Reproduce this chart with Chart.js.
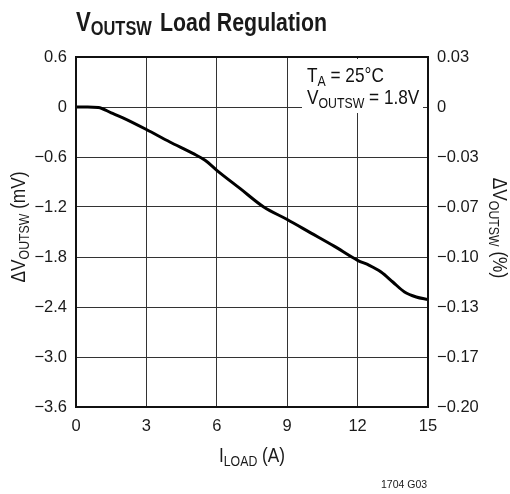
<!DOCTYPE html>
<html>
<head>
<meta charset="utf-8">
<script src="https://cdn.jsdelivr.net/npm/chart.js@4.4.1/dist/chart.umd.min.js"></script>
<style>
  html, body { margin: 0; padding: 0; background: #fff; }
  #wrap { width: 510px; height: 494px; position: relative; }
</style>
</head>
<body>
<div id="wrap"><canvas id="c" width="510" height="494"></canvas></div>
<script>
// ---- data ----
const loadCurrent = [0, 0.5, 0.95, 1.5, 2, 3, 4, 5, 5.5, 6, 7, 8, 9, 10, 11, 12, 12.5, 13, 13.5, 14, 14.5, 15];
const deltaV      = [0, 0, -0.005, -0.07, -0.13, -0.27, -0.42, -0.56, -0.64, -0.76, -0.98, -1.2, -1.35, -1.51, -1.67, -1.84, -1.9, -1.98, -2.1, -2.22, -2.28, -2.31];
const xTickLabels = ['0', '3', '6', '9', '12', '15'];
const leftTickLabels  = ['\u22123.6', '\u22123.0', '\u22122.4', '\u22121.8', '\u22121.2', '\u22120.6', '0', '0.6'];
const rightTickLabels = ['\u22120.20', '\u22120.17', '\u22120.13', '\u22120.10', '\u22120.07', '\u22120.03', '0', '0.03'];

const FONT = '"Liberation Sans", Arial, sans-serif';
const TICK_FONT = { family: FONT, size: 16.5 };
const SX = 0.82; // horizontal condensing for the narrow typeface look

function drawSub(ctx, parts, x, y) {
  // parts: [text, size, dy, bold]
  ctx.save();
  ctx.translate(x, y);
  ctx.scale(SX, 1);
  let cx = 0;
  for (const p of parts) {
    ctx.font = (p[3] ? 'bold ' : '') + p[1] + 'px ' + FONT;
    ctx.fillText(p[0], cx, p[2]);
    cx += ctx.measureText(p[0]).width;
  }
  ctx.restore();
  return cx * SX;
}
function measureSub(ctx, parts) {
  let w = 0;
  ctx.save();
  for (const p of parts) {
    ctx.font = (p[3] ? 'bold ' : '') + p[1] + 'px ' + FONT;
    w += ctx.measureText(p[0]).width;
  }
  ctx.restore();
  return w * SX;
}

const decor = {
  id: 'decor',
  beforeDatasetsDraw(chart) {
    const ctx = chart.ctx;
    ctx.save();
    ctx.fillStyle = '#fff';
    ctx.fillRect(302, 59, 121, 54);
    ctx.fillStyle = '#111';
    ctx.textBaseline = 'alphabetic';
    ctx.textAlign = 'left';
    drawSub(ctx, [['T', 21, 0], ['A', 15, 4], [' = 25\u00B0C', 21, 0]], 307, 82);
    drawSub(ctx, [['V', 21, 0], ['OUTSW', 15, 4], [' = 1.8V', 21, 0]], 307, 104);
    ctx.restore();
  },
  afterDraw(chart) {
    const ctx = chart.ctx;
    const a = chart.chartArea;
    ctx.save();
    ctx.strokeStyle = '#111';
    ctx.lineWidth = 2;
    ctx.strokeRect(a.left, a.top, a.right - a.left, a.bottom - a.top);
    ctx.fillStyle = '#1a1a1a';
    ctx.textBaseline = 'alphabetic';
    ctx.textAlign = 'left';
    // title
    drawSub(ctx, [['V', 27, 0, true], ['OUTSW', 20, 4, true]], 76, 31);
    drawSub(ctx, [['Load Regulation', 26, 0, true]], 160, 31);
    // x title
    const xt = [['I', 21, 0], ['LOAD', 15, 4], [' (A)', 21, 0]];
    const xw = measureSub(ctx, xt);
    drawSub(ctx, xt, 252 - xw / 2, 462);
    // left y title
    const lt = [['\u0394V', 21, 0], ['OUTSW', 15, 4], [' (mV)', 21, 0]];
    const lw = measureSub(ctx, lt);
    ctx.save();
    ctx.translate(25, 227);
    ctx.rotate(-Math.PI / 2);
    drawSub(ctx, lt, -lw / 2, 0);
    ctx.restore();
    // right y title
    const rt = [['\u0394V', 21, 0], ['OUTSW', 15, 4], [' (%)', 21, 0]];
    const rw = measureSub(ctx, rt);
    ctx.save();
    ctx.translate(493, 228);
    ctx.rotate(Math.PI / 2);
    drawSub(ctx, rt, -rw / 2, 0);
    ctx.restore();
    // footnote
    ctx.font = '10.5px ' + FONT;
    ctx.fillText('1704 G03', 381, 488);
    ctx.restore();
  }
};

new Chart(document.getElementById('c'), {
  type: 'line',
  data: {
    datasets: [{
      data: loadCurrent.map((x, i) => ({ x: x, y: deltaV[i] })),
      borderColor: '#000',
      borderWidth: 3,
      pointRadius: 0,
      cubicInterpolationMode: 'monotone',
      fill: false
    }]
  },
  options: {
    responsive: false,
    animation: false,
    devicePixelRatio: 1,
    layout: { padding: { top: 57, left: 0, right: 0, bottom: 0 } },
    plugins: { legend: { display: false }, tooltip: { enabled: false }, title: { display: false } },
    scales: {
      x: {
        type: 'linear', min: 0, max: 15,
        ticks: { stepSize: 3, color: '#1a1a1a', font: TICK_FONT, padding: 10, maxRotation: 0,
                 callback: (v, i) => xTickLabels[i] },
        grid: { color: '#333', lineWidth: 1, drawTicks: false },
        border: { display: false },
        afterFit: s => { s.height = 87; }
      },
      y: {
        type: 'linear', position: 'left', min: -3.6, max: 0.6,
        ticks: { stepSize: 0.6, color: '#1a1a1a', font: TICK_FONT, padding: 9,
                 callback: (v, i) => leftTickLabels[i] },
        grid: { color: '#333', lineWidth: 1, drawTicks: false },
        border: { display: false },
        afterFit: s => { s.width = 76; }
      },
      y2: {
        type: 'linear', position: 'right', min: -3.6, max: 0.6,
        ticks: { stepSize: 0.6, color: '#1a1a1a', font: TICK_FONT, padding: 9,
                 callback: (v, i) => rightTickLabels[i] },
        grid: { display: false, drawTicks: false },
        border: { display: false },
        afterFit: s => { s.width = 82; }
      }
    }
  },
  plugins: [decor]
});
</script>
</body>
</html>
